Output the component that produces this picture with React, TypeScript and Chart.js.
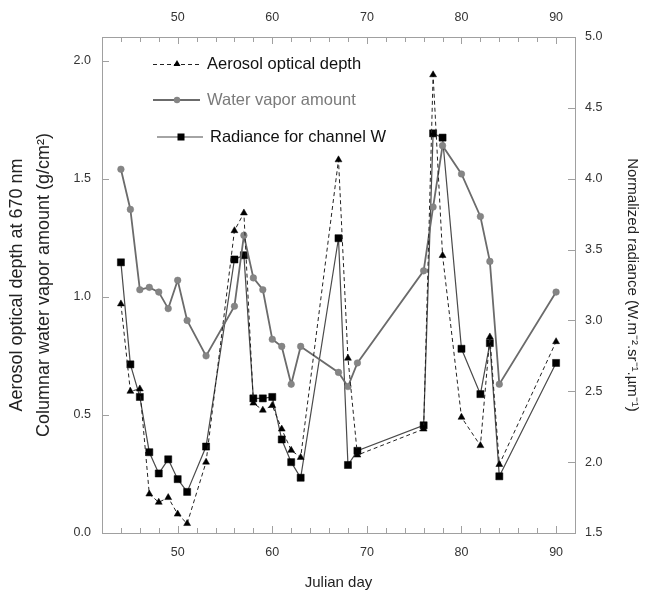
import React, { useEffect, useRef } from 'react';
import { Chart, registerables } from 'chart.js';

Chart.register(...registerables);

const julianDays = [44, 45, 46, 47, 48, 49, 50, 51, 53, 56, 57, 58, 59, 60, 61, 62, 63, 67, 68, 69, 76, 77, 78, 80, 82, 83, 84, 90];
const aerosolDepth = [0.97, 0.60, 0.61, 0.165, 0.13, 0.15, 0.08, 0.04, 0.30, 1.28, 1.355, 0.55, 0.52, 0.54, 0.44, 0.35, 0.32, 1.58, 0.74, 0.33, 0.44, 1.94, 1.175, 0.49, 0.37, 0.83, 0.29, 0.81];
const waterVapor = [1.54, 1.37, 1.03, 1.04, 1.02, 0.95, 1.07, 0.90, 0.75, 0.96, 1.26, 1.08, 1.03, 0.82, 0.79, 0.63, 0.79, 0.68, 0.62, 0.72, 1.11, 1.38, 1.64, 1.52, 1.34, 1.15, 0.63, 1.02];
const radiance = [3.41, 2.69, 2.46, 2.07, 1.92, 2.02, 1.88, 1.79, 2.11, 3.43, 3.46, 2.45, 2.45, 2.46, 2.16, 2.00, 1.89, 3.58, 1.98, 2.08, 2.26, 4.32, 4.29, 2.80, 2.48, 2.84, 1.90, 2.70];

const dayTickLabels = [50, 60, 70, 80, 90];
const dayMinorTicks = [44, 46, 48, 52, 54, 56, 58, 62, 64, 66, 68, 72, 74, 76, 78, 82, 84, 86, 88];
const leftTicks = [0, 0.5, 1.0, 1.5, 2.0];
const rightTicks = [1.5, 2.0, 2.5, 3.0, 3.5, 4.0, 4.5, 5.0];
const seriesNames = ['Aerosol optical depth', 'Water vapor amount', 'Radiance for channel W'];

const FONT = "'Liberation Sans', Arial, sans-serif";
const FRAME = '#a0a0a0';

const framePlugin = {
  id: 'frameTicks',
  beforeDatasetsDraw(chart: any) {
    const { ctx, chartArea: a, scales } = chart;
    ctx.save();
    ctx.strokeStyle = FRAME;
    ctx.lineWidth = 1;
    ctx.strokeRect(a.left + 0.5, a.top + 0.5, a.right - a.left, a.bottom - a.top);
    ctx.beginPath();
    const xs = scales.x;
    const drawX = (v: number, len: number) => {
      const p = Math.round(xs.getPixelForValue(v)) + 0.5;
      ctx.moveTo(p, a.bottom); ctx.lineTo(p, a.bottom - len);
      ctx.moveTo(p, a.top); ctx.lineTo(p, a.top + len);
    };
    dayTickLabels.forEach((v) => drawX(v, 7));
    dayMinorTicks.forEach((v) => drawX(v, 5));
    leftTicks.forEach((v) => {
      const p = Math.round(scales.y.getPixelForValue(v)) + 0.5;
      ctx.moveTo(a.left, p); ctx.lineTo(a.left + 7, p);
    });
    rightTicks.forEach((v) => {
      const p = Math.round(scales.y2.getPixelForValue(v)) + 0.5;
      ctx.moveTo(a.right, p); ctx.lineTo(a.right - 7, p);
    });
    ctx.stroke();
    ctx.restore();
  },
};

const legendPlugin = {
  id: 'innerLegend',
  afterDatasetsDraw(chart: any) {
    const { ctx } = chart;
    ctx.save();
    ctx.font = `16.5px ${FONT}`;
    ctx.textBaseline = 'middle';
    // row 1: aerosol
    let y = 64;
    ctx.strokeStyle = '#222';
    ctx.lineWidth = 1;
    ctx.setLineDash([4, 3]);
    ctx.beginPath(); ctx.moveTo(153, y + 0.5); ctx.lineTo(200, y + 0.5); ctx.stroke();
    ctx.setLineDash([]);
    ctx.fillStyle = '#000';
    ctx.beginPath(); ctx.moveTo(177, y - 4); ctx.lineTo(180.5, y + 2); ctx.lineTo(173.5, y + 2); ctx.closePath(); ctx.fill();
    ctx.fillStyle = '#111';
    ctx.fillText(seriesNames[0], 207, y);
    // row 2: water vapor
    y = 100;
    ctx.strokeStyle = '#6b6b6b';
    ctx.lineWidth = 1.8;
    ctx.beginPath(); ctx.moveTo(153, y); ctx.lineTo(200, y); ctx.stroke();
    ctx.fillStyle = '#858585';
    ctx.beginPath(); ctx.arc(177, y, 3.2, 0, Math.PI * 2); ctx.fill();
    ctx.fillStyle = '#7a7a7a';
    ctx.fillText(seriesNames[1], 207, y);
    // row 3: radiance
    y = 137;
    ctx.strokeStyle = '#4a4a4a';
    ctx.lineWidth = 1.2;
    ctx.beginPath(); ctx.moveTo(157, y); ctx.lineTo(203, y); ctx.stroke();
    ctx.fillStyle = '#000';
    ctx.fillRect(177.5, y - 3.5, 7, 7);
    ctx.fillStyle = '#111';
    ctx.fillText(seriesNames[2], 210, y);
    ctx.restore();
  },
};

export default function App() {
  const ref = useRef<HTMLCanvasElement>(null);
  useEffect(() => {
    Chart.defaults.font.family = FONT;
    const pts = (vals: number[]) => julianDays.map((d, i) => ({ x: d, y: vals[i] }));
    const tickFont = { size: 12.5, family: FONT };
    const chart = new Chart(ref.current as HTMLCanvasElement, {
      type: 'line',
      data: {
        datasets: [
          {
            label: seriesNames[0],
            data: pts(aerosolDepth),
            xAxisID: 'x',
            yAxisID: 'y',
            borderColor: '#222',
            borderWidth: 1,
            borderDash: [4, 3],
            pointStyle: 'triangle',
            pointRadius: 4,
            pointBackgroundColor: '#000',
            pointBorderColor: '#000',
            pointBorderWidth: 0.5,
            tension: 0,
            fill: false,
          },
          {
            label: seriesNames[1],
            data: pts(waterVapor),
            xAxisID: 'x',
            yAxisID: 'y',
            borderColor: '#6b6b6b',
            borderWidth: 1.8,
            pointStyle: 'circle',
            pointRadius: 3.3,
            pointBackgroundColor: '#858585',
            pointBorderColor: '#7a7a7a',
            pointBorderWidth: 0.5,
            tension: 0,
            fill: false,
          },
          {
            label: seriesNames[2],
            data: pts(radiance),
            xAxisID: 'x',
            yAxisID: 'y2',
            borderColor: '#4a4a4a',
            borderWidth: 1.2,
            pointStyle: 'rect',
            pointRadius: 5,
            pointBackgroundColor: '#000',
            pointBorderColor: '#000',
            pointBorderWidth: 0.5,
            tension: 0,
            fill: false,
          },
        ],
      },
      options: {
        responsive: false,
        animation: false,
        devicePixelRatio: 1,
        events: [],
        layout: { padding: 0 },
        plugins: { legend: { display: false }, tooltip: { enabled: false } },
        scales: {
          x: {
            type: 'linear',
            position: 'bottom',
            min: 42,
            max: 92,
            afterBuildTicks: (s: any) => { s.ticks = dayTickLabels.map((v) => ({ value: v })); },
            afterFit: (s: any) => { s.height = 59; },
            grid: { display: false, drawTicks: false },
            border: { display: false },
            ticks: { padding: 12, color: '#333', font: tickFont, autoSkip: false, maxRotation: 0, callback: (v: any) => String(v) },
            title: { display: true, text: 'Julian day', color: '#222', font: { size: 15, family: FONT, lineHeight: '18px' }, padding: { top: 0, bottom: 0 } },
          },
          x2: {
            type: 'linear',
            position: 'top',
            min: 42,
            max: 92,
            afterBuildTicks: (s: any) => { s.ticks = dayTickLabels.map((v) => ({ value: v })); },
            afterFit: (s: any) => { s.height = 37; },
            grid: { display: false, drawTicks: false },
            border: { display: false },
            ticks: { padding: 12, color: '#333', font: tickFont, autoSkip: false, maxRotation: 0, callback: (v: any) => String(v) },
          },
          y: {
            type: 'linear',
            position: 'left',
            min: 0,
            max: 2.1,
            afterBuildTicks: (s: any) => { s.ticks = leftTicks.map((v) => ({ value: v })); },
            afterFit: (s: any) => { s.width = 102; },
            grid: { display: false, drawTicks: false },
            border: { display: false },
            ticks: { padding: 11, color: '#333', font: tickFont, callback: (v: any) => Number(v).toFixed(1) },
            title: {
              display: true,
              text: ['Aerosol optical depth at 670 nm', 'Columnar water vapor amount (g/cm²)'],
              color: '#222',
              font: { size: 18, family: FONT, lineHeight: '27px' },
              padding: { top: 4, bottom: 0 },
            },
          },
          y2: {
            type: 'linear',
            position: 'right',
            min: 1.5,
            max: 5.0,
            afterBuildTicks: (s: any) => { s.ticks = rightTicks.map((v) => ({ value: v })); },
            afterFit: (s: any) => { s.width = 80; },
            grid: { display: false, drawTicks: false },
            border: { display: false },
            ticks: { padding: 10, color: '#333', font: tickFont, callback: (v: any) => Number(v).toFixed(1) },
            title: {
              display: true,
              text: 'Normalized radiance (W.m⁻².sr⁻¹.µm⁻¹)',
              color: '#222',
              font: { size: 15, family: FONT, lineHeight: '18px' },
              padding: { top: 14, bottom: 0 },
            },
          },
        },
      },
      plugins: [framePlugin, legendPlugin],
    } as any);
    return () => chart.destroy();
  }, []);
  return (
    <div style={{ position: 'fixed', left: 0, top: 0, width: 655, height: 592, background: '#fff' }}>
      <canvas ref={ref} width={655} height={592} style={{ display: 'block', width: 655, height: 592 }} />
    </div>
  );
}
